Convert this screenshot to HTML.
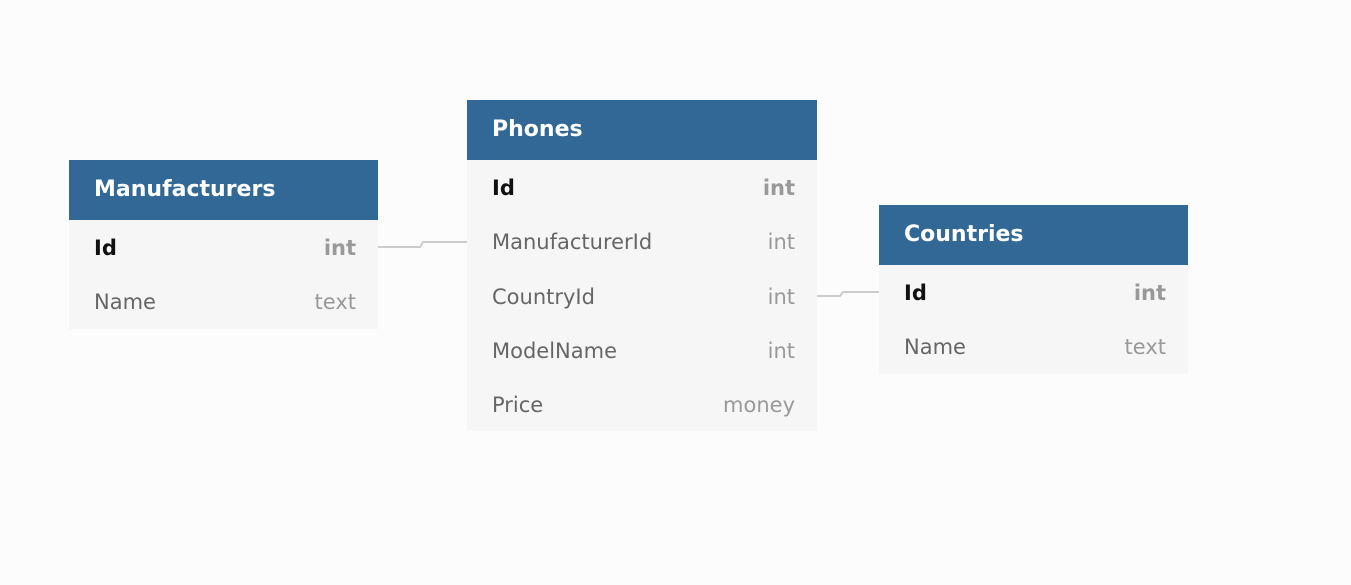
<!DOCTYPE html>
<html><head><style>
body{margin:0;width:1351px;height:585px;background:#fcfcfc;font-family:"DejaVu Sans","Liberation Sans",sans-serif;position:relative;overflow:hidden}
.t{position:absolute;background:#f6f6f6}
.h{height:60px;background:#316895;color:#fff;font-weight:bold;font-size:22px;line-height:60px;padding-left:25px}
.r{height:54.3px;line-height:56px;font-size:21px;color:#666;padding:0 22px 0 25px;position:relative}
.r span{position:absolute;right:22px;color:#999}
.r.k{color:#111;font-weight:bold}
.r.k span{color:#999}
</style></head><body>
<svg style="position:absolute;left:0;top:0" width="1351" height="585">
<path d="M378 247 H420 L423 242 H467" stroke="#ccc" stroke-width="2" fill="none"/>
<path d="M817 296 H840 L843 292 H879" stroke="#ccc" stroke-width="2" fill="none"/>
</svg>
<div class="t" style="left:69px;top:160px;width:309px">
<div class="h">Manufacturers</div>
<div class="r k">Id<span>int</span></div>
<div class="r">Name<span>text</span></div>
</div>
<div class="t" style="left:467px;top:100px;width:350px">
<div class="h">Phones</div>
<div class="r k">Id<span>int</span></div>
<div class="r">ManufacturerId<span>int</span></div>
<div class="r">CountryId<span>int</span></div>
<div class="r">ModelName<span>int</span></div>
<div class="r">Price<span>money</span></div>
</div>
<div class="t" style="left:879px;top:205px;width:309px">
<div class="h">Countries</div>
<div class="r k">Id<span>int</span></div>
<div class="r">Name<span>text</span></div>
</div>
</body></html>
